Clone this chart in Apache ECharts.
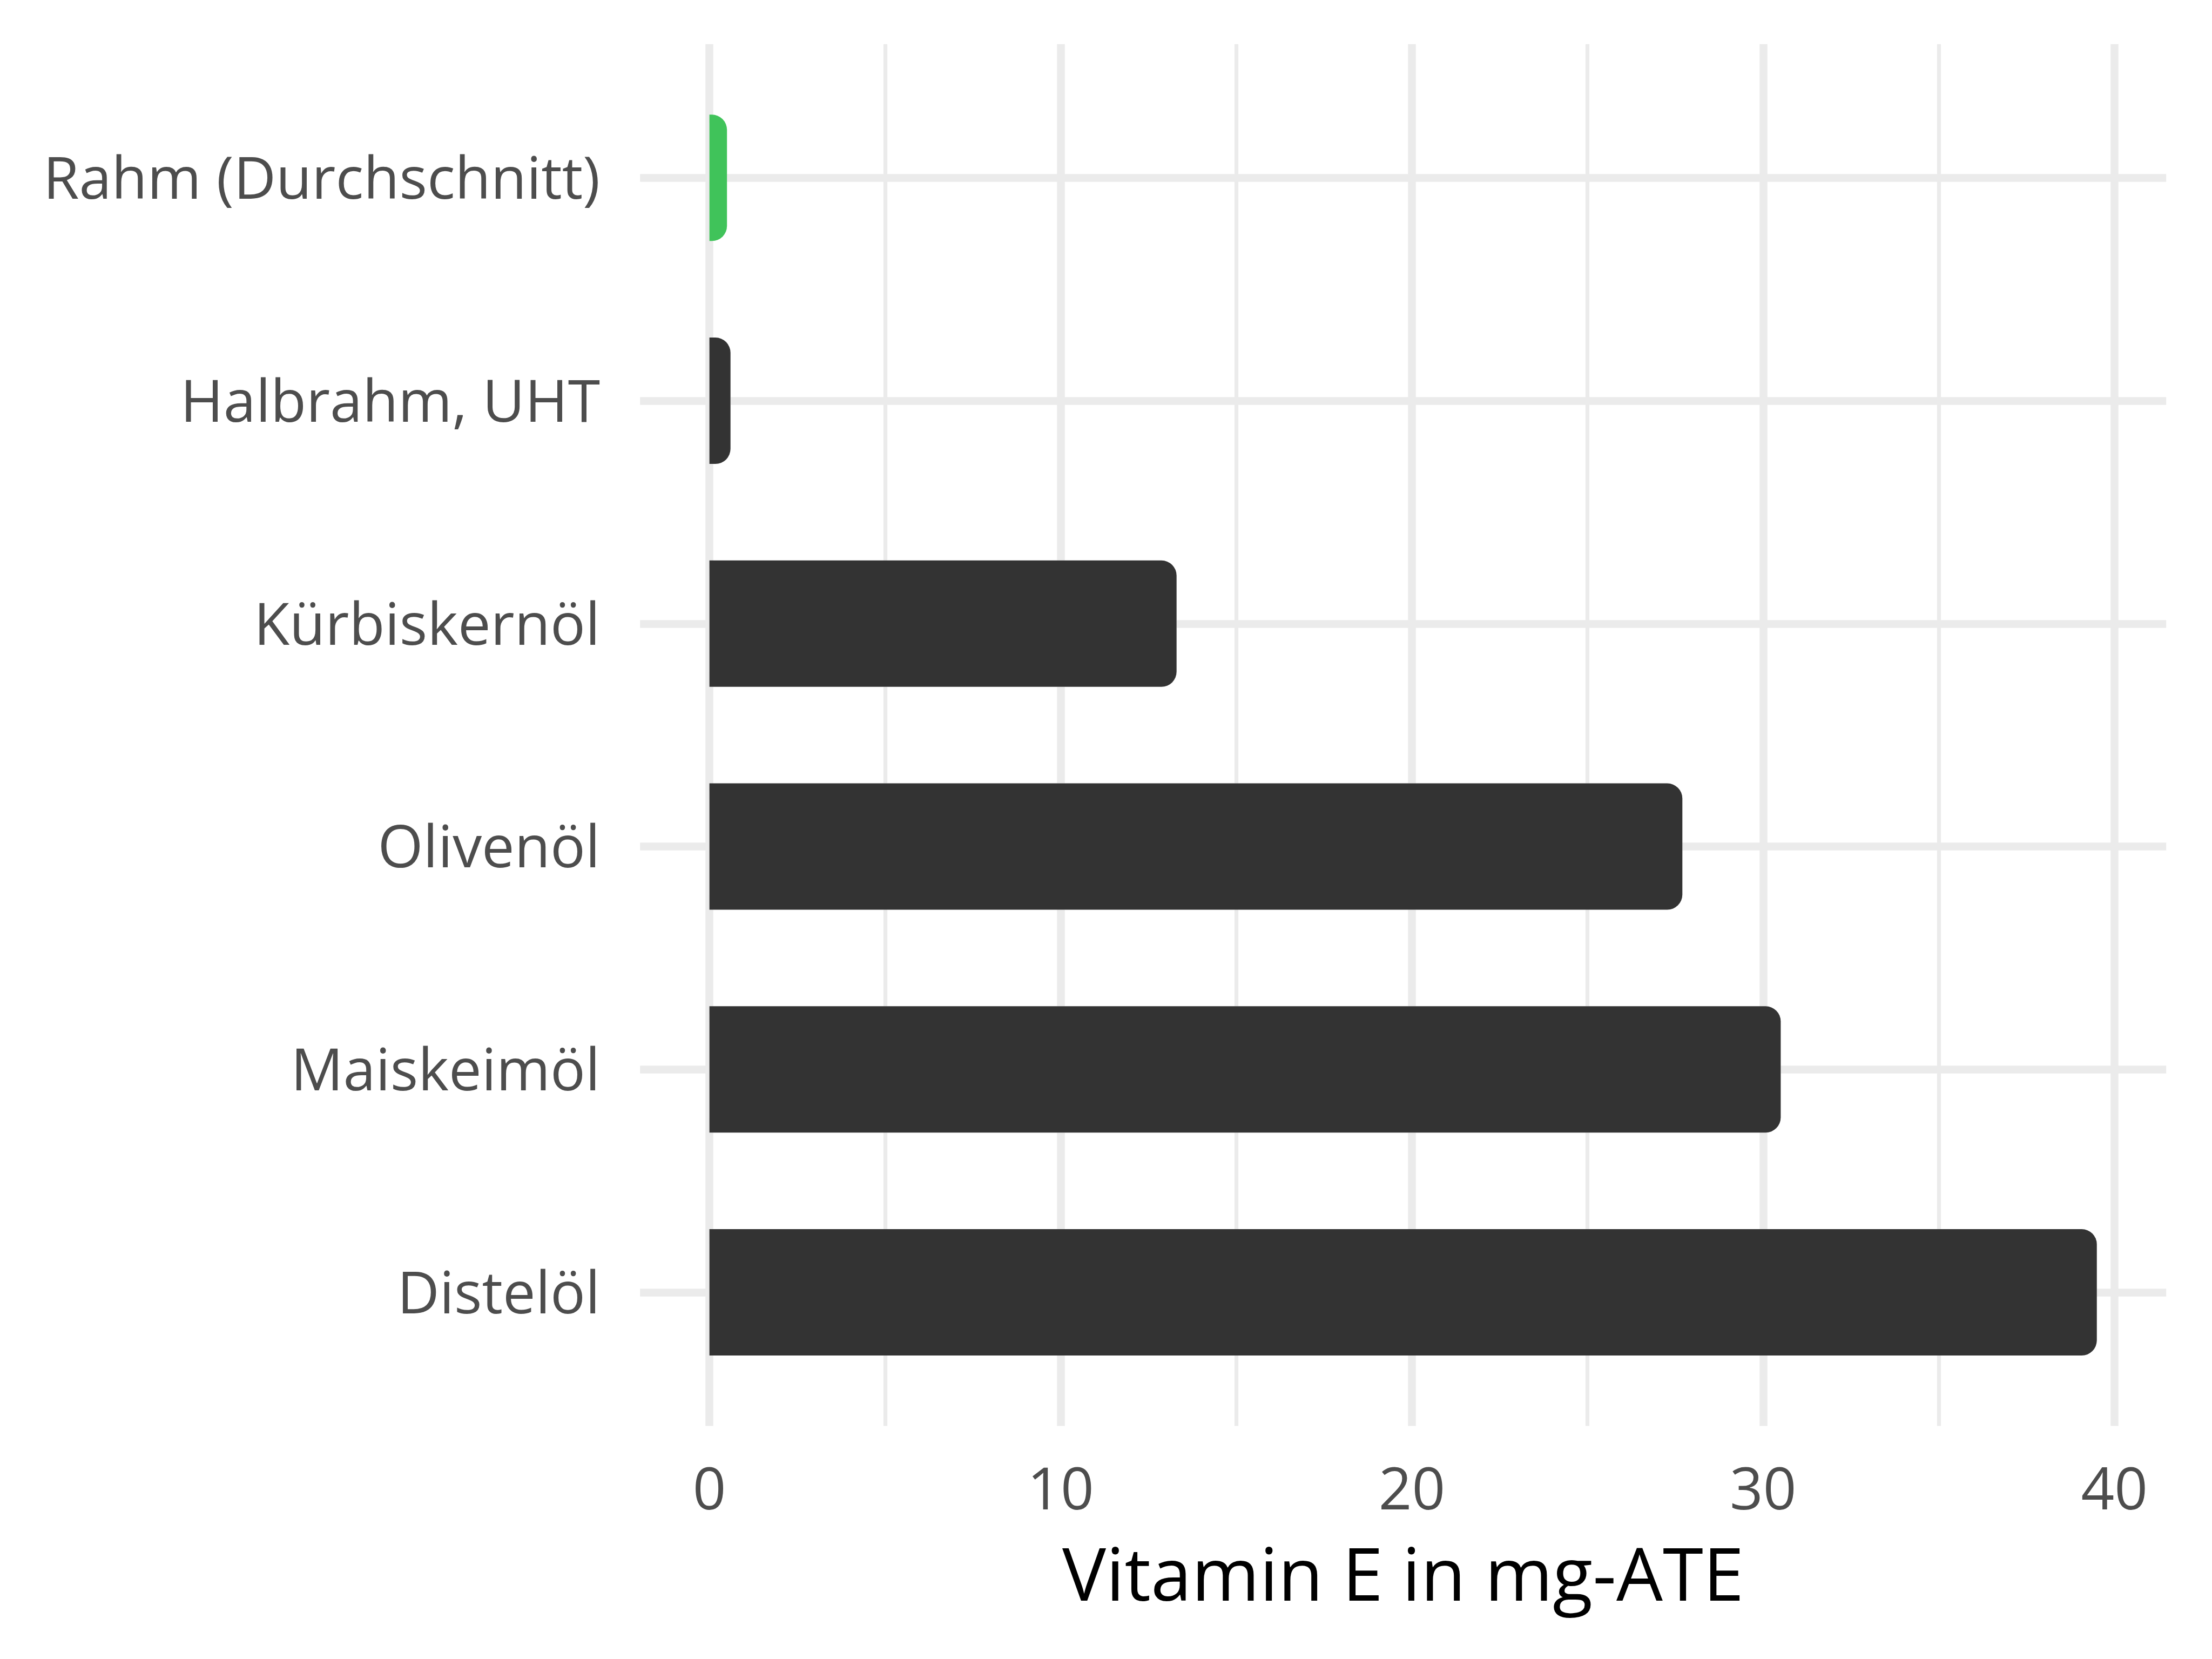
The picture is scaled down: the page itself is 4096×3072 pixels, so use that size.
<!DOCTYPE html>
<html>
<head>
<meta charset="utf-8">
<script src="https://cdn.jsdelivr.net/npm/echarts@6/dist/echarts.min.js"></script>
<style>
html,body{margin:0;padding:0;background:#fff;}
#chart{width:4096px;height:3072px;}
</style>
</head>
<body>
<div id="chart"></div>
<script>
const categories = ['Rahm (Durchschnitt)', 'Halbrahm, UHT', 'Kürbiskernöl', 'Olivenöl', 'Maiskeimöl', 'Distelöl'];
const values = [0.5, 0.6, 13.3, 27.7, 30.5, 39.5];
const highlighted = ['Rahm (Durchschnitt)'];
const xMajorTicks = [0, 10, 20, 30, 40];
const xMinorTicks = [5, 15, 25, 35];
const xTitle = 'Vitamin E in mg-ATE';

const FONT = 'Open Sans';
const GRID_COLOR = '#EBEBEB';
const DARK = '#333333';
const GREEN = '#40C35A';
const xMin = -1.975, xMax = 41.475;

const chart = echarts.init(document.getElementById('chart'), null, {renderer: 'canvas'});

const option = {
  animation: false,
  backgroundColor: '#ffffff',
  grid: [
    {left: 1185.2, right: 84.8, top: 123, bottom: 472.6, containLabel: false},
    {left: 1185.2, right: 84.8, top: 81.8, bottom: 431.5, containLabel: false}
  ],
  xAxis: [
    {gridIndex: 0, type: 'value', min: xMin, max: xMax, show: false},
    {
      gridIndex: 1, type: 'value', min: xMin, max: xMax,
      axisLine: {show: false}, axisTick: {show: false}, splitLine: {show: false},
      axisLabel: {
        customValues: xMajorTicks, fontSize: 108, fontFamily: FONT, color: '#4D4D4D',
        margin: 124, verticalAlign: 'middle', lineHeight: 108
      },
      name: xTitle, nameLocation: 'middle', nameGap: 285,
      nameTextStyle: {fontSize: 136, fontFamily: FONT, color: '#000000', verticalAlign: 'middle', lineHeight: 136}
    }
  ],
  yAxis: [
    {
      gridIndex: 0, type: 'category', data: categories, inverse: true,
      axisLine: {show: false}, axisTick: {show: false}, splitLine: {show: false},
      axisLabel: {fontSize: 108, fontFamily: FONT, color: '#4D4D4D', margin: 74, verticalAlign: 'top', lineHeight: 16}
    },
    {gridIndex: 1, type: 'value', min: 0, max: 1, show: false}
  ],
  series: [
    {
      type: 'line', xAxisIndex: 1, yAxisIndex: 1, data: [], silent: true, z: 0,
      markLine: {
        silent: true, z: 1, symbol: ['none', 'none'], label: {show: false},
        emphasis: {disabled: true},
        data: xMajorTicks.map(v => ({xAxis: v, lineStyle: {color: GRID_COLOR, width: 14.5, type: 'solid'}}))
          .concat(xMinorTicks.map(v => ({xAxis: v, lineStyle: {color: GRID_COLOR, width: 7.2, type: 'solid'}})))
      }
    },
    {
      type: 'line', xAxisIndex: 0, yAxisIndex: 0, data: [], silent: true, z: 0,
      markLine: {
        silent: true, z: 1, symbol: ['none', 'none'], label: {show: false},
        emphasis: {disabled: true},
        data: categories.map((c, i) => ({yAxis: i, lineStyle: {color: GRID_COLOR, width: 14.5, type: 'solid'}}))
      }
    },
    {
      type: 'bar', xAxisIndex: 0, yAxisIndex: 0, silent: true, z: 3,
      barWidth: 234, barGap: '-100%',
      data: values,
      itemStyle: {color: '#ffffff', borderColor: '#ffffff', borderWidth: 29, borderRadius: [0, 28, 28, 0]}
    },
    {
      type: 'bar', xAxisIndex: 0, yAxisIndex: 0, silent: true, z: 4,
      barWidth: 234, barGap: '-100%',
      data: values.map((v, i) => ({
        value: v,
        itemStyle: {color: highlighted.includes(categories[i]) ? GREEN : DARK}
      })),
      itemStyle: {borderRadius: [0, 28, 28, 0]}
    }
  ]
};
chart.setOption(option);
</script>
</body>
</html>
